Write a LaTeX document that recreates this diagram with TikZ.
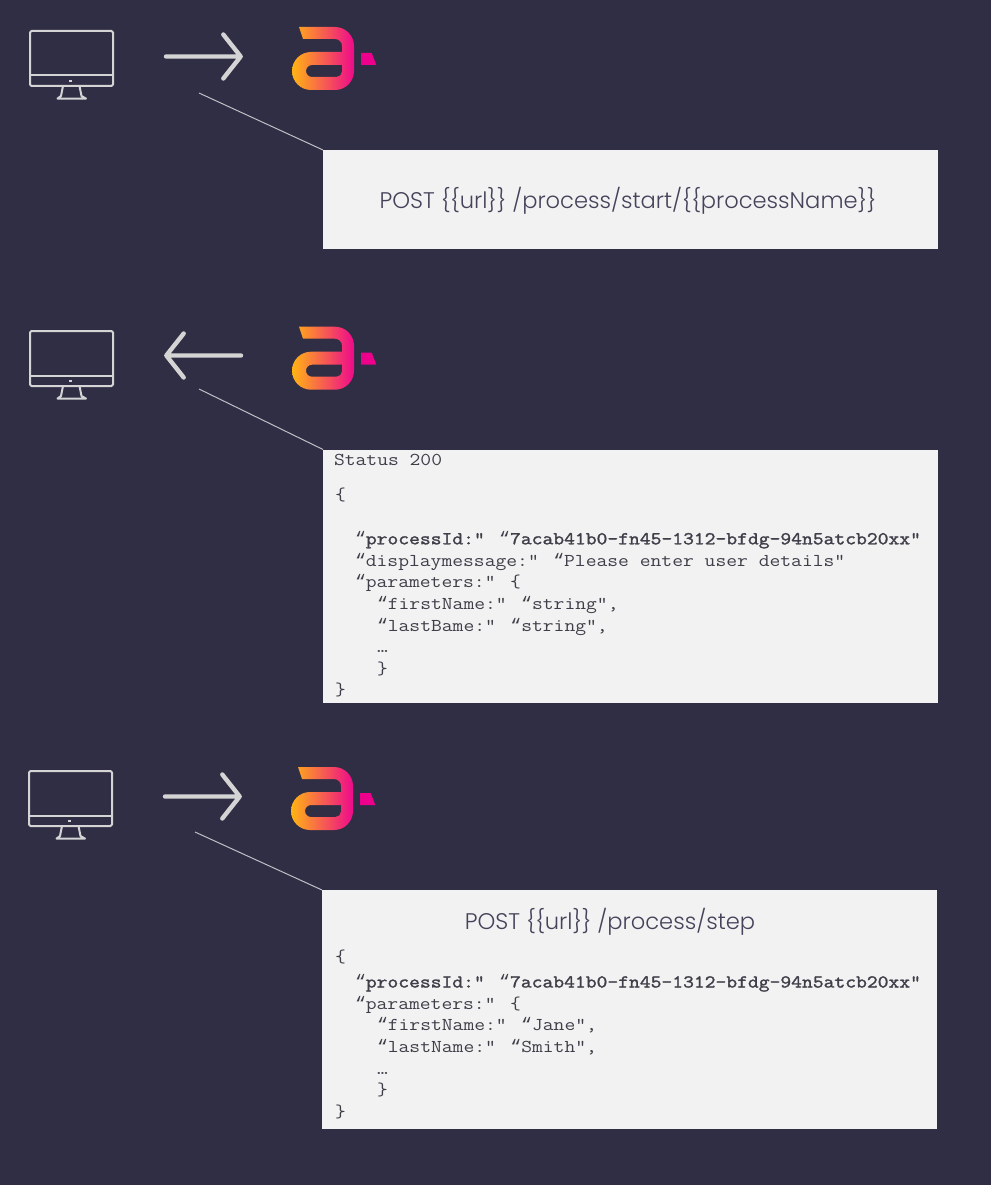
\documentclass[tikz,border=0pt]{standalone}
\usepackage{fontspec}
\setmainfont{Poppins Light}
\newfontfamily\codef{Latin Modern Mono}[FakeStretch=1.16]
\newfontfamily\codebf{Latin Modern Mono}[FakeStretch=1.16,FakeBold=1.6]
\newfontfamily\quotef{Liberation Mono}
\newcommand{\oq}{{\quotef “}}
\definecolor{bgc}{HTML}{302E45}
\definecolor{boxc}{HTML}{F2F2F2}
\definecolor{linec}{HTML}{D4D4D4}
\definecolor{leadc}{HTML}{BFBFC6}
\definecolor{txtc}{HTML}{45435A}
\definecolor{codec}{HTML}{3F3F4A}
\definecolor{logoA}{HTML}{FFB414}
\definecolor{logoB}{HTML}{EE0A8C}
\definecolor{logoC}{HTML}{EC008C}
\tikzset{
  panel/.style={fill=boxc,draw=none,inner sep=0pt,outer sep=0pt},
  leader/.style={draw=leadc,line width=1pt},
  arrowline/.style={draw=linec,line width=4.4pt,line cap=round,line join=round},
  monline/.style={draw=linec,line width=2pt,line join=round,line cap=round},
  code/.style={anchor=base west,inner sep=0pt,outer sep=0pt,text=codec,font=\codef\fontsize{18.1}{20}\selectfont},
  codeb/.style={code,font=\codebf\fontsize{18.1}{20}\selectfont},
  title/.style={anchor=center,inner sep=0pt,text=txtc,font=\fontsize{22.6}{26}\selectfont},
  monitor/.pic={
    \draw[monline,rounded corners=1.5pt] (30,31) rectangle (113,86);
    \draw[monline] (30,75.5) -- (113,75.5);
    \fill[linec] (68.7,79.7) rectangle (72,82.2);
    \draw[monline] (63,86) -- (61,96) -- (57.5,98.6) -- (86,98.6) -- (81.5,96) -- (79.5,86);
  },
  logo/.pic={
    \path[even odd rule,left color=logoA,right color=logoB]
      (299,27) -- (335,27) .. controls (345.5,27) and (354,35.5) .. (354,46) -- (354,71)
      .. controls (354,81.5) and (345.5,90) .. (335,90) -- (311,90)
      .. controls (300.5,90) and (292,81.5) .. (292,71)
      .. controls (292,60.5) and (300.5,52) .. (311,52) -- (342,52) -- (342,46)
      .. controls (342,42.1) and (338.9,39) .. (335,39) -- (303,39) -- cycle
      (312,65) -- (342,65) -- (342,71.5) .. controls (342,74.5) and (339.5,77) .. (336.5,77) -- (312,77)
      .. controls (308.7,77) and (306,74.3) .. (306,71) .. controls (306,67.7) and (308.7,65) .. (312,65) -- cycle;
    \fill[logoC] (361,53) -- (371.7,53) -- (376.3,65) -- (361,65) -- cycle;
  },
}
\begin{document}
\begin{tikzpicture}[x=1pt,y=-1pt]
\useasboundingbox (0,0) rectangle (991,1185);
\fill[bgc] (0,0) rectangle (991,1185);

% first row
\pic at (0,0) {monitor};
\pic at (0,0) {logo};
\coordinate (a1s) at (166,56.5);
\coordinate (a1t) at (240.7,56.5);
\coordinate (a1u) at (223.3,34.5);
\coordinate (a1d) at (223.3,78.5);
\draw[arrowline] (a1s) -- (a1t) (a1u) -- (a1t) -- (a1d);
\node[panel,minimum width=615pt,minimum height=99pt] (box1) at (630.5,199.5) {};
\coordinate (c1) at (199,93);
\draw[leader] (c1) -- (box1.north west);
\node[title] (t1) at (628,200.5) {POST \{\{url\}\} /process/start/\{\{processName\}\}};

% second row
\pic at (0,300) {monitor};
\pic at (0,299.7) {logo};
\coordinate (a2s) at (241,355.5);
\coordinate (a2t) at (166.3,355.5);
\coordinate (a2u) at (183.7,333.5);
\coordinate (a2d) at (183.7,377.5);
\draw[arrowline] (a2s) -- (a2t) (a2u) -- (a2t) -- (a2d);
\node[panel,minimum width=615pt,minimum height=253pt] (box2) at (630.5,576) {};
\coordinate (c2) at (199,389);
\draw[leader] (c2) -- (box2.north west);
\node[code] (s1) at (334,465.7) {Status 200};
\node[code] (s2) at (335,500) {\{};
\node[codeb] (s3) at (355,544.3) {\oq processId:” \oq 7acab41b0-fn45-1312-bfdg-94n5atcb20xx”};
\node[code] (s4) at (355,566) {\oq displaymessage:” \oq Please enter user details”};
\node[code] (s5) at (355,587.7) {\oq parameters:” \{};
\node[code] (s6) at (377,609.4) {\oq firstName:” \oq string”,};
\node[code] (s7) at (377,631.1) {\oq lastBame:” \oq string”,};
\node[code] (s8) at (377,652.8) {…};
\node[code] (s9) at (377,674) {\}};
\node[code] (s10) at (335,695.5) {\}};

% third row
\pic at (-1,740) {monitor};
\pic at (-1,740) {logo};
\coordinate (a3s) at (165,796.5);
\coordinate (a3t) at (239.7,796.5);
\coordinate (a3u) at (222.3,774.5);
\coordinate (a3d) at (222.3,818.5);
\draw[arrowline] (a3s) -- (a3t) (a3u) -- (a3t) -- (a3d);
\node[panel,minimum width=615pt,minimum height=239pt] (box3) at (629.5,1009.5) {};
\coordinate (c3) at (195,832);
\draw[leader] (c3) -- (box3.north west);
\node[title] (t3) at (610,921.5) {POST \{\{url\}\} /process/step};
\node[code] (r1) at (335,962) {\{};
\node[codeb] (r2) at (355,987.5) {\oq processId:” \oq 7acab41b0-fn45-1312-bfdg-94n5atcb20xx”};
\node[code] (r3) at (355,1009.2) {\oq parameters:” \{};
\node[code] (r4) at (377,1030.9) {\oq firstName:” \oq Jane”,};
\node[code] (r5) at (377,1052.6) {\oq lastName:” \oq Smith”,};
\node[code] (r6) at (377,1074.3) {…};
\node[code] (r7) at (377,1095.5) {\}};
\node[code] (r8) at (335,1117) {\}};
\end{tikzpicture}
\end{document}
